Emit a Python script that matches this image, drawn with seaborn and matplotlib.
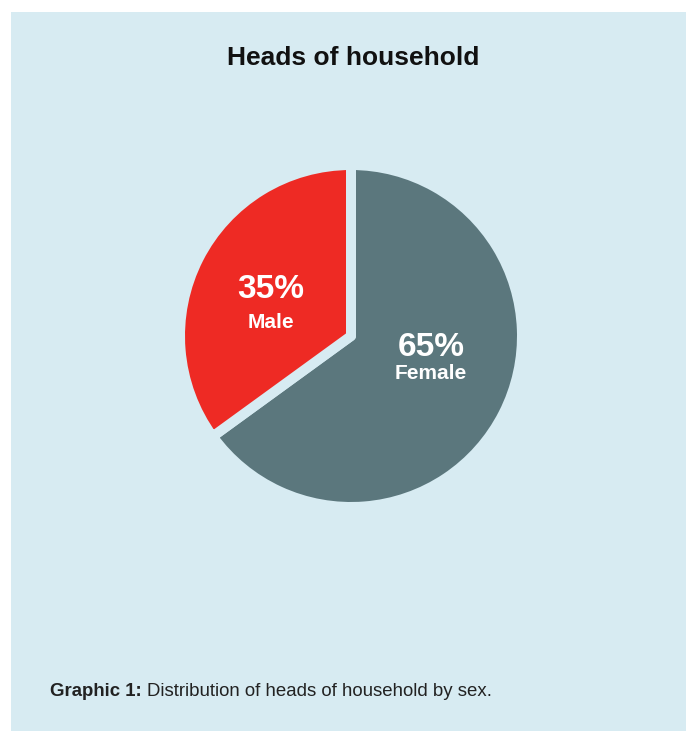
import matplotlib
matplotlib.use("Agg")
import matplotlib.pyplot as plt
import seaborn as sns
from matplotlib.patches import Rectangle

categories = ["Female", "Male"]
shares = [65, 35]
colors = ["#5b777d", "#ee2a24"]
title = "Heads of household"
caption_bold = "Graphic 1:"
caption_text = "Distribution of heads of household by sex."

sns.set_theme(style="white")
plt.rcParams['font.family'] = ['Liberation Sans', 'DejaVu Sans']

W, H = 686, 731
panel = "#d7ebf2"
fig = plt.figure(figsize=(W / 100, H / 100), dpi=100)
fig.patch.set_facecolor("white")
fig.patches.append(Rectangle((11 / W, 0), 1 - 11 / W, 1 - 12 / H,
                             transform=fig.transFigure, facecolor=panel,
                             edgecolor="none", zorder=-10))

cx, cy, R = 351, 336, 171
ax = fig.add_axes([(cx - R) / W, (H - cy - R) / H, 2 * R / W, 2 * R / H])
ax.set_facecolor("none")
wedges, _ = ax.pie(shares, colors=colors, startangle=90, counterclock=False,
                   wedgeprops=dict(edgecolor=panel, linewidth=7.2))
for w in wedges:
    w.set_joinstyle("round")
ax.set_xlim(-1, 1)
ax.set_ylim(-1, 1)
ax.set_aspect("equal")
ax.axis("off")

# label positions (layout)
pct_pos = {"Female": (0.468, -0.065), "Male": (-0.468, 0.27)}
name_pos = {"Female": (0.468, -0.218), "Male": (-0.468, 0.08)}
for cat, val in zip(categories, shares):
    ax.text(*pct_pos[cat], f"{val}%", ha="center", va="center",
            color="white", fontsize=24, fontweight="bold")
    ax.text(*name_pos[cat], cat, ha="center", va="center",
            color="white", fontsize=15, fontweight="bold")

fig.text(353 / W, 1 - 58 / H, title, ha="center", va="center",
         fontsize=19, fontweight="bold", color="#111111")

t1 = fig.text(50 / W, 1 - 692 / H, caption_bold + " ", ha="left", va="center",
              fontsize=13.4, fontweight="bold", color="#222222")
fig.canvas.draw()
bb = t1.get_window_extent()
fig.text(bb.x1 / W, 1 - 692 / H, caption_text, ha="left", va="center",
         fontsize=13.4, color="#222222")

fig.savefig("out.png", dpi=100, facecolor="white")
